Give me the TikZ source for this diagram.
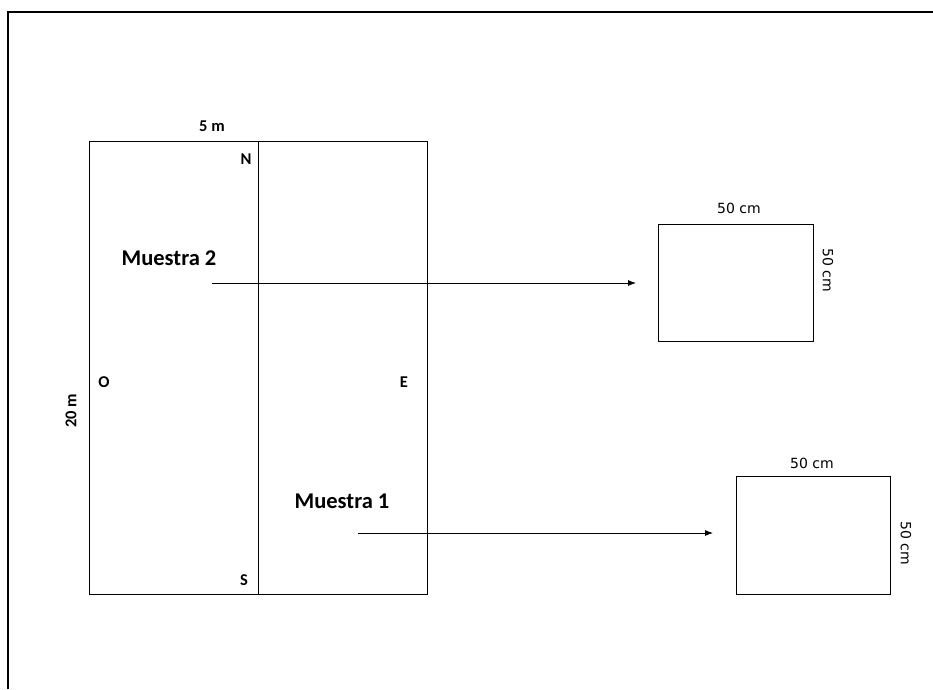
\documentclass[tikz,border=0pt]{standalone}
\usepackage{fontspec}
\usetikzlibrary{arrows.meta}
\setmainfont{Carlito}
\newfontfamily\cmfont{DejaVu Sans}
\begin{document}
\begin{tikzpicture}[x=1pt,y=-1pt,
  frame/.style={line width=1.6pt},
  plot/.style={line width=0.8pt},
  lbl/.style={font=\fontsize{16.5}{16.5}\selectfont\bfseries, inner sep=0pt},
  bigl/.style={font=\fontsize{22.5}{22.5}\selectfont\bfseries, inner sep=0pt},
  cmlbl/.style={font=\cmfont\fontsize{14}{14}\selectfont, inner sep=0pt},
  arr/.style={line width=0.8pt,-{Latex[length=8pt,width=6pt]}}]
\useasboundingbox (0,0) rectangle (933,689);
\draw[frame] (8,689) -- (8,12) -- (933,12);
% big plot
\node[plot,draw,minimum width=338pt,minimum height=453pt,anchor=north west,inner sep=0pt] (plot) at (89,141) {};
\coordinate (midtop) at (258,141);
\coordinate (midbot) at (258,594);
\draw[plot] (midtop) -- (midbot);
\node[lbl] (five) at (212,126) {5 m};
\node[lbl] (N) at (246,159) {N};
\node[lbl] (S) at (244,580) {S};
\node[lbl] (O) at (104,382) {O};
\node[lbl] (E) at (404,382) {E};
\node[lbl,rotate=90] (twenty) at (71,411) {20 m};
\node[bigl] (m2) at (169,258) {Muestra 2};
\node[bigl] (m1) at (342,501) {Muestra 1};
% sample boxes
\node[plot,draw,minimum width=155pt,minimum height=117pt,anchor=north west,inner sep=0pt] (s2) at (658,224) {};
\node[plot,draw,minimum width=154pt,minimum height=118pt,anchor=north west,inner sep=0pt] (s1) at (736,476) {};
\node[cmlbl] (s2top) at (739,208) {50 cm};
\node[cmlbl,rotate=-90] (s2right) at (828,270) {50 cm};
\node[cmlbl] (s1top) at (812,463) {50 cm};
\node[cmlbl,rotate=-90] (s1right) at (906,543) {50 cm};
% arrows
\coordinate (a2s) at (212,283);
\coordinate (a2e) at (636,283);
\coordinate (a1s) at (358,533);
\coordinate (a1e) at (713,533);
\draw[arr] (a2s) -- (a2e);
\draw[arr] (a1s) -- (a1e);
\end{tikzpicture}
\end{document}
